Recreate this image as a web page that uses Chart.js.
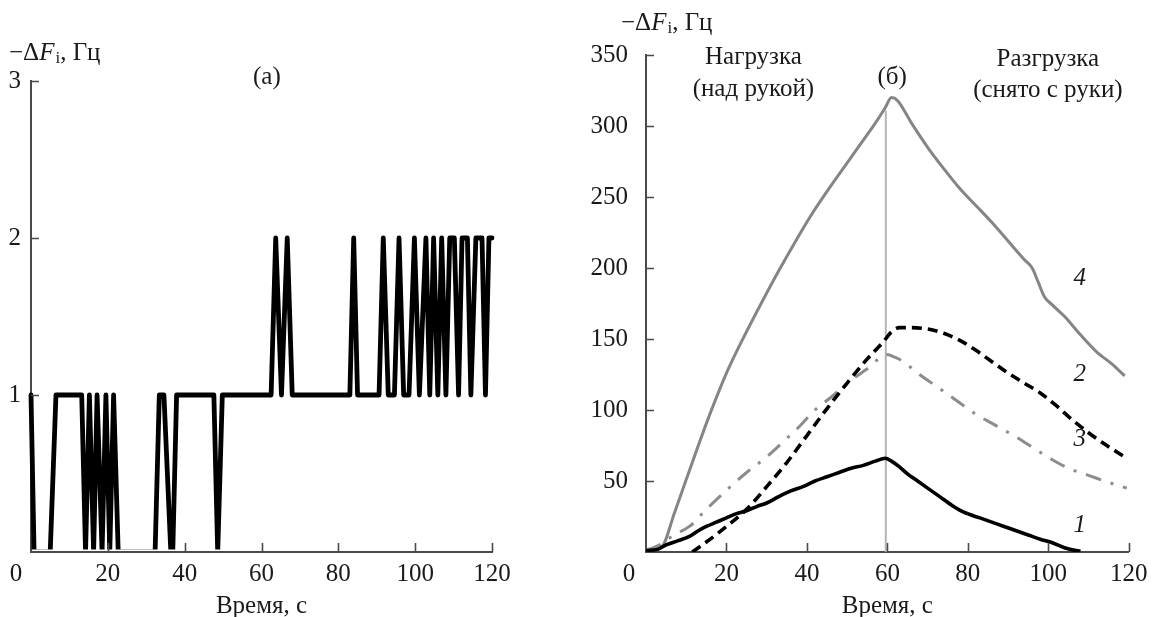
<!DOCTYPE html>
<html><head><meta charset="utf-8">
<script src="https://cdn.jsdelivr.net/npm/chart.js@4.4.1/dist/chart.umd.min.js"></script>
<style>
html,body{margin:0;padding:0;background:#fff;overflow:hidden}
#wrap{position:relative;width:1157px;height:617px;background:#fff}
canvas{position:absolute;top:0}
#cA{left:0}
#cB{left:575px}
</style></head><body>
<div id="wrap"><canvas id="cA" width="575" height="617"></canvas><canvas id="cB" width="582" height="617"></canvas></div>
<script>
// ---------- Data: panel (a) ----------
const timeA  = [0, 0.8, 5.0, 6.5, 13.2, 14.2, 15.2, 16.3, 17.2, 18.5, 19.5, 20.5, 21.5, 22.7, 32.3, 33.4, 34.6, 36.4, 36.9, 37.9, 47.6, 48.6, 49.8, 62.5, 63.7, 65.2, 66.7, 68.0, 83.0, 84.0, 85.0, 90.6, 91.7, 93.0, 94.6, 95.8, 97.0, 98.4, 99.8, 101.1, 102.8, 103.8, 104.8, 105.9, 106.9, 108.0, 109.0, 110.2, 111.3, 112.2, 113.6, 114.5, 115.8, 117.4, 118.3, 119.2, 120];
const valueA = [1, 0, 0, 1, 1, 0, 1, 0, 1, 0, 1, 0, 1, 0, 0, 1, 1, 0, 0, 1, 1, 0, 1, 1, 2, 1, 2, 1, 1, 2, 1, 1, 2, 1, 1, 2, 1, 1, 2, 1, 2, 1, 2, 1, 2, 1, 2, 2, 1, 2, 2, 1, 2, 2, 1, 2, 2];

// ---------- Data: panel (б) ----------
const time1 = [0, 3, 5, 8, 10.8, 13, 15, 17.5, 20, 22.5, 25, 27.5, 30, 33, 36, 39, 42, 45, 48, 51, 54, 57, 59.5, 61, 63, 65, 67, 70, 73, 76, 79, 83, 87, 91, 95, 98, 101, 104, 106, 108];
const curve1 = [1, 2, 5, 8, 11, 15, 18, 21, 24, 27, 29, 32, 34.5, 39, 43, 46, 50, 53, 56, 59, 61, 64, 66, 64, 60, 55, 51, 45, 39, 33, 28, 24, 20, 16, 12, 9, 6.5, 3, 1.5, 0.5];

const time2 = [11.5, 15, 20, 25, 30, 35, 40, 45, 50, 55, 59, 61, 63, 66, 70, 74, 78, 82, 86, 90, 94, 98, 102, 106, 110, 114, 119];
const curve2 = [0, 7, 18, 30, 46, 63, 82, 101, 119, 136, 148, 155, 158, 158, 157, 154, 149, 142, 134, 126, 119, 112, 103, 93, 84, 76, 67];

const time3 = [0, 3.4, 7, 10.8, 15, 21, 25, 30, 35, 38, 42, 46, 51, 55, 59.8, 62, 64, 68, 72, 77, 82, 87, 92, 97, 101, 105, 110, 115, 119.5];
const curve3 = [1, 5, 12, 18, 30, 46, 56, 67, 80, 88, 100, 109, 121, 129, 139, 137, 134, 125, 117, 107, 97, 89, 81, 72, 65, 59, 54, 49, 45];

const time4 = [0, 3, 4.5, 7, 10, 13, 16, 20, 24.6, 29, 33, 37, 41, 45, 49, 53, 57, 59.5, 61, 62.5, 66, 70, 74, 78, 82, 86, 90, 94, 96, 97.5, 99, 101, 104, 108, 112, 116, 119];
const curve4 = [2, 2, 6, 27, 51, 75, 98, 126, 153, 177, 198, 218, 237, 254, 270, 286, 302, 313, 320, 318, 302, 285, 270, 256, 244, 232, 219, 206, 200, 190, 180, 174, 166, 153, 141, 132, 124];

const markerTime = [59.6, 59.6];
const markerValue = [0, 311];

const xTicks = [0, 20, 40, 60, 80, 100, 120];
const yTicksA = [0, 1, 2, 3];
const yTicksB = [0, 50, 100, 150, 200, 250, 300, 350];

// ---------- Helpers ----------
const FONT = "'Liberation Serif', 'Times New Roman', serif";
const FS = 25;
const XPAD = 9.5;
const AXIS = '#4a4a4a';
const TXT = '#1a1a1a';
const pts = (xs, ys) => xs.map((x, i) => ({x, y: ys[i]}));

function makeDecor(cfg) {
  return {
    id: 'decor',
    afterDraw(chart) {
      const {ctx, chartArea: a, scales: {x, y}} = chart;
      ctx.save();
      // inside tick marks
      ctx.strokeStyle = AXIS; ctx.lineWidth = 1.6;
      ctx.beginPath();
      x.ticks.forEach(t => { if (t.value <= x.min) return; const p = Math.round(x.getPixelForValue(t.value)) + 0.5; ctx.moveTo(p, a.bottom); ctx.lineTo(p, a.bottom - 9); });
      y.ticks.forEach(t => { if (t.value <= y.min) return; const p = Math.round(y.getPixelForValue(t.value)) + 0.5; ctx.moveTo(a.left, p); ctx.lineTo(a.left + 8, p); });
      ctx.stroke();
      // corner "0" label
      ctx.fillStyle = TXT;
      ctx.font = `${FS}px ${FONT}`;
      ctx.textAlign = 'center'; ctx.textBaseline = 'middle';
      ctx.fillText('0', a.left - cfg.zeroOffset, a.bottom + XPAD + FS / 2);
      // y title with italic F and subscript i
      let cx = cfg.titleX; const cy = cfg.titleY;
      ctx.textAlign = 'left'; ctx.textBaseline = 'middle';
      const parts = [
        {t: '\u2212\u0394', f: `${FS}px ${FONT}`, dy: 0},
        {t: 'F', f: `italic ${FS}px ${FONT}`, dy: 0},
        {t: 'i', f: `${Math.round(FS * 0.68)}px ${FONT}`, dy: 6},
        {t: ', \u0413\u0446', f: `${FS}px ${FONT}`, dy: 0}
      ];
      parts.forEach(p => { ctx.font = p.f; ctx.fillText(p.t, cx, cy + p.dy); cx += ctx.measureText(p.t).width + (p.t === 'F' ? 1 : 0); });
      // annotations anchored to data coordinates
      ctx.textAlign = 'center';
      cfg.texts.forEach(tx => {
        ctx.font = `${tx.italic ? 'italic ' : ''}${FS}px ${FONT}`;
        ctx.fillText(tx.text, x.getPixelForValue(tx.x), y.getPixelForValue(tx.y));
      });
      ctx.restore();
    }
  };
}

function axisX() {
  return {
    type: 'linear', min: 0, max: 120,
    afterBuildTicks: s => { s.ticks = xTicks.map(v => ({value: v})); },
    afterFit: s => { s.height = 65; },
    grid: {display: true, drawOnChartArea: false, drawTicks: false},
    border: {display: true, color: AXIS, width: 2},
    ticks: {autoSkip: false, maxRotation: 0, padding: XPAD, color: TXT,
      font: {family: FONT, size: FS, lineHeight: 1},
      callback: v => (v === 0 ? '' : String(v))},
    title: {display: true, text: 'Время, с', color: TXT, padding: {top: 0, bottom: -2},
      font: {family: FONT, size: FS, lineHeight: 1}}
  };
}
function axisY(max, ticks, width, pad) {
  return {
    type: 'linear', min: 0, max: max,
    afterBuildTicks: s => { s.ticks = ticks.map(v => ({value: v})); },
    afterFit: s => { s.width = width; },
    grid: {display: true, drawOnChartArea: false, drawTicks: false},
    border: {display: true, color: AXIS, width: 2},
    ticks: {autoSkip: false, padding: pad, color: TXT,
      font: {family: FONT, size: FS, lineHeight: 1},
      callback: v => (v === 0 ? '' : String(v))}
  };
}

const common = {
  responsive: false, animation: false, devicePixelRatio: 1,
  events: [],
  plugins: {legend: {display: false}, tooltip: {enabled: false}},
  elements: {point: {radius: 0}, line: {tension: 0}}
};

// ---------- Panel (a) ----------
new Chart(document.getElementById('cA'), {
  type: 'line',
  data: {datasets: [{
    data: pts(timeA, valueA), borderColor: '#000', borderWidth: 4.8,
    borderJoinStyle: 'round', borderCapStyle: 'round',
    clip: {left: 4, right: 6, top: 6, bottom: -2.5}
  }]},
  options: Object.assign({}, common, {
    layout: {padding: {top: 81, right: 83, left: 0, bottom: 0}},
    scales: {x: axisX(), y: axisY(3, yTicksA, 31, 10)}
  }),
  plugins: [makeDecor({
    zeroOffset: 15, titleX: 9, titleY: 53,
    texts: [{text: '(a)', x: 61.4, y: 3.02}]
  })]
});

// ---------- Panel (б) ----------
const smooth = {cubicInterpolationMode: 'monotone', borderJoinStyle: 'round'};
new Chart(document.getElementById('cB'), {
  type: 'line',
  data: {datasets: [
    Object.assign({data: pts(time1, curve1), borderColor: '#000', borderWidth: 3.6}, smooth),
    Object.assign({data: pts(time2, curve2), borderColor: '#000', borderWidth: 3.6, borderDash: [10, 6]}, smooth),
    Object.assign({data: pts(time3, curve3), borderColor: '#8c8c8c', borderWidth: 3, borderDash: [16, 10, 3, 10]}, smooth),
    Object.assign({data: pts(time4, curve4), borderColor: '#858585', borderWidth: 3}, smooth),
    {data: pts(markerTime, markerValue), borderColor: '#b4b4b4', borderWidth: 2}
  ]},
  options: Object.assign({}, common, {
    layout: {padding: {top: 55, right: 21, left: 0, bottom: 0}},
    scales: {x: axisX(), y: axisY(350, yTicksB, 71, 18)}
  }),
  plugins: [makeDecor({
    zeroOffset: 17, titleX: 46, titleY: 23,
    texts: [
      {text: 'Нагрузка', x: 26.7, y: 348.6},
      {text: '(над рукой)', x: 26.7, y: 326},
      {text: '(б)', x: 61.2, y: 334.5},
      {text: 'Разгрузка', x: 99.9, y: 347},
      {text: '(снято с руки)', x: 99.9, y: 325},
      {text: '4', x: 107.8, y: 193, italic: true},
      {text: '2', x: 107.8, y: 125, italic: true},
      {text: '3', x: 107.8, y: 79, italic: true},
      {text: '1', x: 107.8, y: 19, italic: true}
    ]
  })]
});
</script>
</body></html>
